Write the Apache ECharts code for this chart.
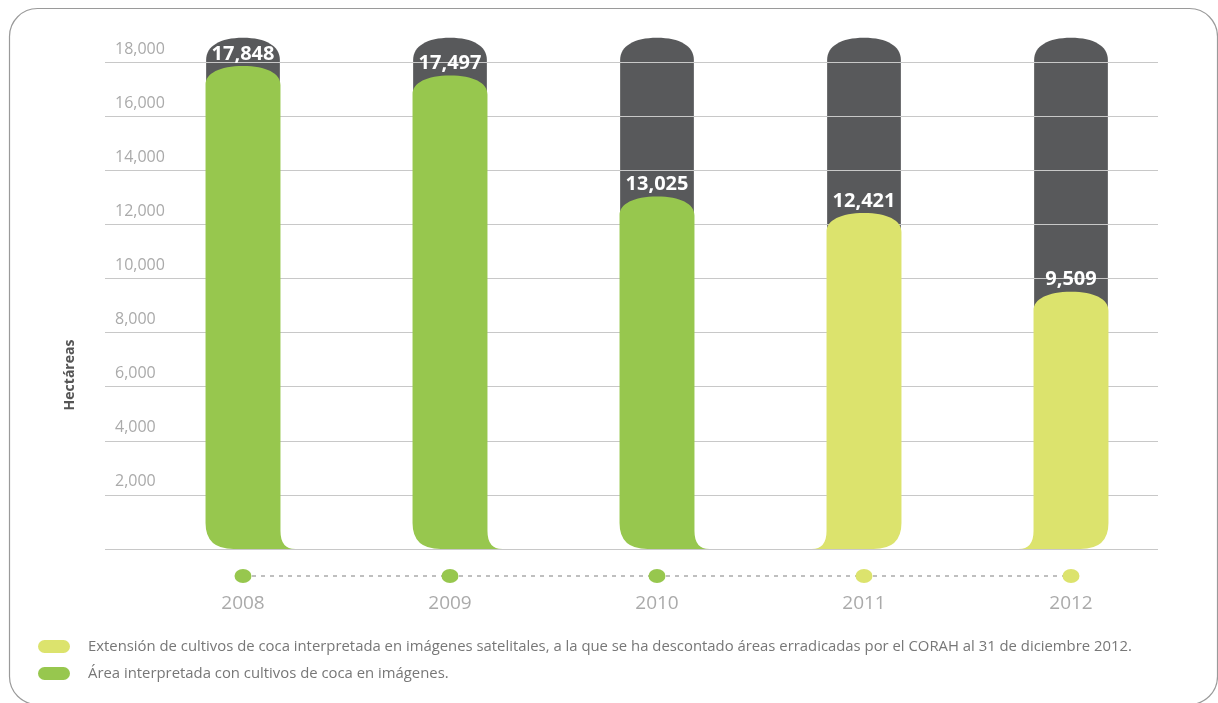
<!DOCTYPE html>
<html>
<head>
<meta charset="utf-8">
<script src="https://cdn.jsdelivr.net/npm/echarts@6/dist/echarts.min.js"></script>
<style>html,body{margin:0;padding:0;background:#fff;}#c{width:1218px;height:703px;}</style>
</head>
<body>
<div id="c"></div>
<script>
const years = ['2008', '2009', '2010', '2011', '2012'];
const areaName = 'Área interpretada con cultivos de coca en imágenes.';
const extName = 'Extensión de cultivos de coca interpretada en imágenes satelitales, a la que se ha descontado áreas erradicadas por el CORAH al 31 de diciembre 2012.';
const areaValues = [17848, 17497, 13025, null, null];
const extValues = [null, null, null, 12421, 9509];
const yMin = 0, yMax = 18000, yInterval = 2000;
const backdropTop = 18900;

const GREEN = '#97c74e', YELLOW = '#dce36d', DARK = '#58595b';
const FONT = '"Open Sans", sans-serif';

function toPairs(arr) {
  return arr.map((v, i) => v == null ? null : [i, v]).filter(d => d);
}

function domePath(L, R, yT, ry) {
  const x = (L + R) / 2, rx = (R - L) / 2;
  const k = 0.62;
  return 'M' + L + ',' + (yT + ry) +
    ' C' + L + ',' + (yT + ry - k * ry) + ' ' + (x - k * rx) + ',' + yT + ' ' + x + ',' + yT +
    ' C' + (x + k * rx) + ',' + yT + ' ' + R + ',' + (yT + ry - k * ry) + ' ' + R + ',' + (yT + ry);
}

function backdropItem(params, api) {
  const i = api.value(0), v = api.value(1);
  const top = api.coord([i, v]), base = api.coord([i, 0]);
  const bw = api.size([1, 0])[0] * 0.362;
  const L = top[0] - bw / 2 + 0.6, R = top[0] + bw / 2 - 0.6;
  const yEnd = base[1] - 40;
  const d = domePath(L, R, top[1], 22) + ' L' + R + ',' + yEnd + ' L' + L + ',' + yEnd + ' Z';
  return { type: 'path', shape: { pathData: d }, style: { fill: DARK } };
}

function barItem(flareRight, color) {
  return function (params, api) {
    const i = api.value(0), v = api.value(1);
    const top = api.coord([i, v]), base = api.coord([i, 0]);
    const bw = api.size([1, 0])[0] * 0.362;
    const L = top[0] - bw / 2, R = top[0] + bw / 2, yT = top[1], yB = base[1];
    let d = domePath(L, R, yT, 19);
    if (flareRight) {
      d += ' L' + R + ',' + (yB - 18) + ' Q' + R + ',' + yB + ' ' + (R + 15) + ',' + yB +
           ' L' + (L + 28) + ',' + yB + ' Q' + L + ',' + yB + ' ' + L + ',' + (yB - 26) + ' Z';
    } else {
      d += ' L' + R + ',' + (yB - 26) + ' Q' + R + ',' + yB + ' ' + (R - 28) + ',' + yB +
           ' L' + (L - 15) + ',' + yB + ' Q' + L + ',' + yB + ' ' + L + ',' + (yB - 18) + ' Z';
    }
    return {
      type: 'group',
      children: [
        { type: 'path', shape: { pathData: d }, style: { fill: color } },
        { type: 'text', z2: 10, style: {
            text: v.toLocaleString('en-US'), x: top[0], y: yT - 12,
            align: 'center', verticalAlign: 'middle', fill: '#fff',
            fontSize: 20, fontWeight: 'bold', fontFamily: FONT } }
      ]
    };
  };
}

const chart = echarts.init(document.getElementById('c'), null, { renderer: 'canvas' });
chart.setOption({
  animation: false,
  backgroundColor: '#fff',
  graphic: [{
    type: 'rect', z: -10, silent: true,
    shape: { x: 9.5, y: 8.5, width: 1208, height: 696, r: 28 },
    style: { fill: 'none', stroke: '#9a9a9a', lineWidth: 1.2 }
  }, {
    type: 'text', silent: true, x: 70, y: 375, rotation: Math.PI / 2,
    style: { text: 'Hectáreas', align: 'center', verticalAlign: 'middle',
      fill: '#555', fontSize: 14, fontWeight: 'bold', fontFamily: FONT }
  }],
  legend: {
    orient: 'vertical', left: 33, top: 634,
    itemWidth: 32, itemHeight: 13, itemGap: 12,
    icon: 'path://M6.5,0 H25.5 A6.5,6.5 0 0 1 25.5,13 H6.5 A6.5,6.5 0 0 1 6.5,0 Z',
    data: [extName, areaName],
    selectedMode: false,
    textStyle: { color: '#777', fontSize: 14.86, fontFamily: FONT, padding: [0, 0, 0, 13] }
  },
  grid: [
    { left: 105, right: 60, top: 62, height: 487 },
    { left: 139.5, width: 1035, top: 62, height: 487 },
    { left: 139.5, width: 1035, top: 566, height: 20 }
  ],
  xAxis: [
    { gridIndex: 0, type: 'value', show: false },
    { gridIndex: 1, type: 'category', data: years, show: false },
    { gridIndex: 2, type: 'category', data: years,
      axisLine: { show: false, onZero: false }, axisTick: { show: false },
      axisLabel: { color: '#aaa', fontSize: 19, fontFamily: FONT, margin: 8 } }
  ],
  yAxis: [
    { gridIndex: 0, type: 'value', min: yMin, max: yMax, interval: yInterval, z: 2,
      axisLine: { show: false }, axisTick: { show: false },
      axisLabel: { inside: true, showMinLabel: false, verticalAlign: 'bottom',
        padding: [0, 0, 5, 2], color: '#aaa', fontSize: 16, fontFamily: FONT,
        formatter: v => v.toLocaleString('en-US') },
      splitLine: { lineStyle: { color: '#c8c8c8', width: 1.2 } } },
    { gridIndex: 1, type: 'value', min: yMin, max: yMax, show: false, splitLine: { show: false } },
    { gridIndex: 2, type: 'value', min: -1, max: 1, show: false, splitLine: { show: false } }
  ],
  series: [
    { type: 'custom', name: 'backdrop', xAxisIndex: 1, yAxisIndex: 1, z: 1, silent: true,
      renderItem: backdropItem, data: years.map((y, i) => [i, backdropTop]),
      encode: { x: 0, y: 1 } },
    { type: 'custom', name: areaName, xAxisIndex: 1, yAxisIndex: 1, z: 4, color: GREEN,
      itemStyle: { color: GREEN },
      renderItem: barItem(true, GREEN), data: toPairs(areaValues), encode: { x: 0, y: 1 } },
    { type: 'custom', name: extName, xAxisIndex: 1, yAxisIndex: 1, z: 4, color: YELLOW,
      itemStyle: { color: YELLOW },
      renderItem: barItem(false, YELLOW), data: toPairs(extValues), encode: { x: 0, y: 1 } },
    { type: 'line', name: 'timeline', xAxisIndex: 2, yAxisIndex: 2, silent: true, z: 4,
      data: years.map((y, i) => ({ value: 0, itemStyle: { color: areaValues[i] != null ? GREEN : YELLOW } })),
      symbol: 'circle', symbolSize: [17, 14],
      lineStyle: { type: [4, 5], color: '#aaa', width: 1.5 } }
  ]
});
</script>
</body>
</html>
